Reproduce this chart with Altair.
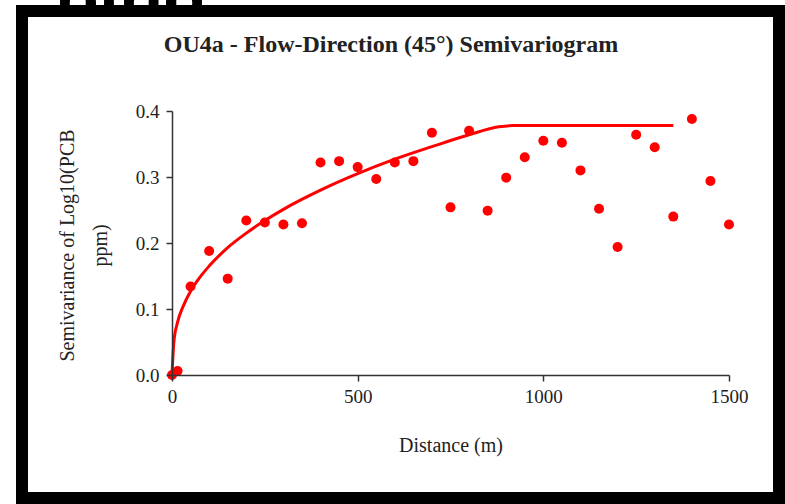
import altair as alt
import pandas as pd

# Experimental semivariogram (lag distance m, semivariance)
lag_m = [0, 15, 50, 100, 150, 200, 250, 300, 350, 400, 450, 500, 550, 600, 650,
         700, 750, 800, 850, 900, 950, 1000, 1050, 1100, 1150, 1200, 1250, 1300,
         1350, 1400, 1450, 1500]
semivar = [0.0, 0.006, 0.134, 0.188, 0.146, 0.234, 0.231, 0.228, 0.230, 0.322,
           0.324, 0.315, 0.297, 0.322, 0.324, 0.367, 0.254, 0.370, 0.249, 0.299,
           0.330, 0.355, 0.352, 0.310, 0.252, 0.194, 0.364, 0.345, 0.240, 0.388,
           0.294, 0.228]

# Fitted model curve
model_x = [0, 5, 15, 30, 50, 75, 100, 150, 200, 250, 300, 400, 500, 600, 700,
           800, 880, 920, 1350]
model_y = [0.0, 0.05, 0.080, 0.104, 0.127, 0.148, 0.165, 0.193, 0.215, 0.234,
           0.251, 0.280, 0.305, 0.327, 0.346, 0.364, 0.376, 0.378, 0.378]

x_ticks = [0, 500, 1000, 1500]
y_ticks = [0.0, 0.1, 0.2, 0.3, 0.4]

title_text = "OU4a - Flow-Direction (45°) Semivariogram"
x_title = "Distance (m)"
y_title = ["Semivariance of Log10(PCB", "ppm)"]
slide_text = "ping"

SERIF = "Liberation Serif"
W, H = 557, 264
PAD_L, PAD_T = 172, 111

pts = pd.DataFrame({"d": lag_m, "g": semivar})
model = pd.DataFrame({"d": model_x, "g": model_y})
one = pd.DataFrame({"k": [0]})

xs = alt.Scale(domain=[0, 1500], nice=False)
ys = alt.Scale(domain=[0, 0.4], nice=False)

x_axis = alt.Axis(values=x_ticks, format="d", title=x_title, grid=False,
                  labelFont=SERIF, labelFontSize=19, labelColor="#222",
                  labelPadding=6, labelFlush=False, titleFont=SERIF,
                  titleFontSize=20, titleFontWeight="normal", titleColor="#222",
                  titleY=70, titleBaseline="middle", domainColor="#333",
                  tickColor="#333", tickSize=6, domainWidth=1.5, tickWidth=1.5,
                  zindex=1)
y_axis = alt.Axis(values=y_ticks, format=".1f", title=y_title, grid=False,
                  labelFont=SERIF, labelFontSize=19, labelColor="#222",
                  labelPadding=7, labelFlush=False, titleFont=SERIF,
                  titleFontSize=20, titleFontWeight="normal", titleColor="#222",
                  titleLineHeight=33, titleAngle=270, titleX=-105,
                  titleY=H / 2 + 2, titleBaseline="middle", titleAlign="center",
                  domainColor="#333", tickColor="#333", tickSize=6,
                  domainWidth=1.5, tickWidth=1.5, zindex=1)

slide = alt.Chart(one).mark_text(
    text=slide_text, font="Liberation Sans", fontSize=72, fontWeight="bold",
    align="left", baseline="alphabetic", color="black"
).encode(x=alt.value(55 - PAD_L), y=alt.value(22 - PAD_T))

frame = alt.Chart(one).mark_rect(
    fill="white", stroke="black", strokeWidth=12
).encode(x=alt.value(22 - PAD_L), x2=alt.value(779 - PAD_L),
         y=alt.value(11 - PAD_T), y2=alt.value(498 - PAD_T))

title = alt.Chart(one).mark_text(
    text=title_text, font=SERIF, fontSize=24, fontWeight="bold",
    align="center", baseline="middle", color="#222"
).encode(x=alt.value(391 - PAD_L), y=alt.value(45 - PAD_T))

line = alt.Chart(model).mark_line(
    color="#ff0000", strokeWidth=3, interpolate="monotone"
).encode(x=alt.X("d:Q", scale=xs, axis=x_axis),
         y=alt.Y("g:Q", scale=ys, axis=y_axis))

points = alt.Chart(pts).mark_point(
    filled=True, color="#ff0000", size=100, opacity=1, shape="circle"
).encode(x=alt.X("d:Q", scale=xs), y=alt.Y("g:Q", scale=ys))

chart = alt.layer(slide, frame, title, line, points).properties(
    width=W, height=H,
    autosize=alt.AutoSizeParams(type="none"),
    padding={"left": PAD_L, "top": PAD_T, "right": 785 - PAD_L - W,
             "bottom": 504 - PAD_T - H},
    background="white",
).configure_view(stroke=None)

chart.save("out.html", embed_options={"renderer": "svg", "actions": False})
